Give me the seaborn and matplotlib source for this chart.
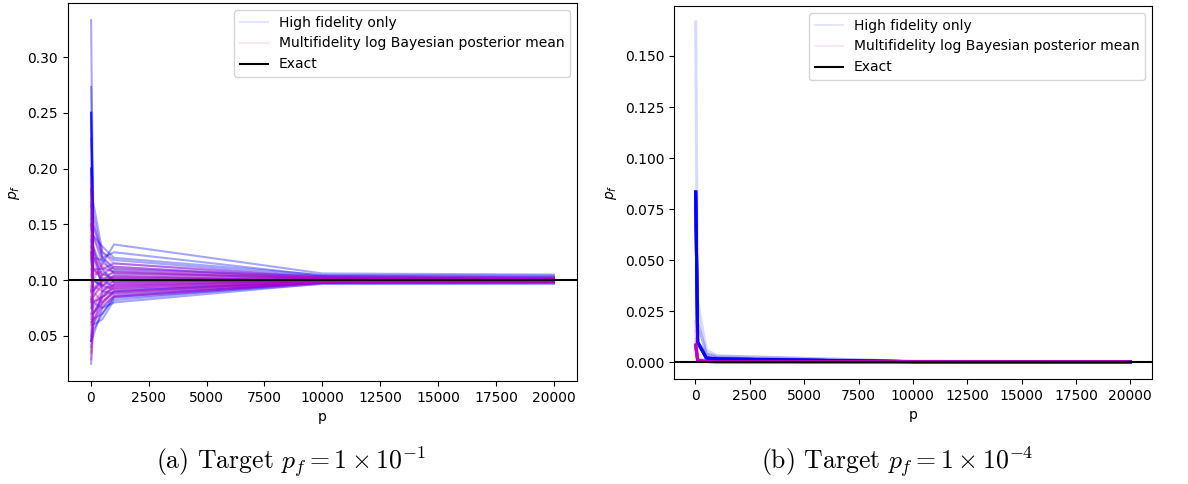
import matplotlib
matplotlib.use("Agg")
import matplotlib.pyplot as plt
from matplotlib.lines import Line2D
import numpy as np
import pandas as pd
import seaborn as sns

# Sample counts at which the failure probability is estimated
P_POINTS = [10, 100, 500, 1000, 10000, 20000]

# (a) target p_f = 1e-1 : high-fidelity-only estimates, one row per run
HF_A = [
    [0.333, 0.150, 0.120, 0.125, 0.1040, 0.1030],
    [0.273, 0.140, 0.115, 0.132, 0.1060, 0.1050],
    [0.250, 0.170, 0.125, 0.118, 0.1030, 0.1010],
    [0.250, 0.130, 0.110, 0.115, 0.1020, 0.1015],
    [0.250, 0.120, 0.105, 0.112, 0.1010, 0.1000],
    [0.250, 0.160, 0.120, 0.110, 0.1035, 0.1025],
    [0.227, 0.110, 0.100, 0.108, 0.1005, 0.1005],
    [0.200, 0.120, 0.118, 0.106, 0.1020, 0.1010],
    [0.200, 0.100, 0.095, 0.104, 0.0990, 0.0995],
    [0.182, 0.090, 0.105, 0.102, 0.1000, 0.1000],
    [0.167, 0.130, 0.090, 0.100, 0.0985, 0.0990],
    [0.150, 0.110, 0.110, 0.098, 0.1010, 0.1005],
    [0.136, 0.080, 0.085, 0.096, 0.0995, 0.0985],
    [0.125, 0.090, 0.100, 0.094, 0.1000, 0.0990],
    [0.100, 0.100, 0.095, 0.092, 0.0980, 0.0985],
    [0.091, 0.070, 0.080, 0.090, 0.0990, 0.0995],
    [0.083, 0.060, 0.090, 0.088, 0.0975, 0.0980],
    [0.075, 0.080, 0.075, 0.086, 0.0980, 0.0990],
    [0.0625, 0.065, 0.070, 0.084, 0.0965, 0.0965],
    [0.0455, 0.050, 0.075, 0.080, 0.0970, 0.0975],
    [0.0455, 0.060, 0.065, 0.082, 0.0985, 0.0990],
    [0.025, 0.055, 0.070, 0.085, 0.0980, 0.0985],
    [0.0455, 0.070, 0.085, 0.090, 0.0990, 0.0995],
    [0.200, 0.140, 0.130, 0.120, 0.1045, 0.1040],
]

# (a) multifidelity log Bayesian posterior mean, one row per run
MF_A = [
    [0.190, 0.140, 0.120, 0.112, 0.1020, 0.1015],
    [0.180, 0.120, 0.110, 0.108, 0.1025, 0.1020],
    [0.170, 0.150, 0.125, 0.115, 0.1030, 0.1025],
    [0.160, 0.110, 0.105, 0.106, 0.1010, 0.1005],
    [0.150, 0.130, 0.100, 0.104, 0.1005, 0.1000],
    [0.140, 0.100, 0.115, 0.110, 0.1015, 0.1012],
    [0.130, 0.120, 0.095, 0.102, 0.1000, 0.1000],
    [0.125, 0.090, 0.100, 0.100, 0.0995, 0.0995],
    [0.120, 0.105, 0.108, 0.098, 0.1000, 0.1002],
    [0.110, 0.095, 0.090, 0.097, 0.0992, 0.0994],
    [0.105, 0.085, 0.098, 0.103, 0.1008, 0.1004],
    [0.100, 0.100, 0.093, 0.095, 0.0988, 0.0990],
    [0.095, 0.080, 0.085, 0.094, 0.0985, 0.0988],
    [0.090, 0.110, 0.102, 0.101, 0.1002, 0.1000],
    [0.085, 0.075, 0.088, 0.092, 0.0982, 0.0985],
    [0.080, 0.090, 0.080, 0.090, 0.0980, 0.0983],
    [0.070, 0.070, 0.082, 0.088, 0.0978, 0.0982],
    [0.065, 0.085, 0.095, 0.099, 0.0998, 0.0997],
    [0.060, 0.065, 0.078, 0.086, 0.0975, 0.0975],
    [0.050, 0.080, 0.090, 0.096, 0.0990, 0.0992],
    [0.040, 0.060, 0.076, 0.085, 0.0976, 0.0981],
    [0.035, 0.070, 0.085, 0.093, 0.0987, 0.0990],
    [0.029, 0.060, 0.080, 0.089, 0.0983, 0.0986],
    [0.155, 0.125, 0.112, 0.107, 0.1012, 0.1008],
]

# (b) target p_f = 1e-4 : most runs see no failure, a few see one or two
HF_B_TYPICAL = [0.0833, 0.0098, 0.0020, 0.0015, 0.00020, 0.00005]
HF_B_TYPICAL_COUNT = 20
HF_B_OTHERS = [
    [0.1667, 0.0196, 0.0040, 0.0020, 0.00020, 0.00010],
    [0.0833, 0.0196, 0.0040, 0.0020, 0.00030, 0.00015],
    [0.0833, 0.0098, 0.0040, 0.0030, 0.00030, 0.00015],
    [0.0833, 0.0294, 0.0060, 0.0030, 0.00040, 0.00020],
    [0.0833, 0.0098, 0.0020, 0.0020, 0.00020, 0.00010],
]
MF_B_TYPICAL = [0.0083, 0.0008, 0.0003, 0.0002, 0.00011, 0.00010]
MF_B_TYPICAL_COUNT = 20
MF_B_OTHERS = [
    [0.0150, 0.0015, 0.0004, 0.0003, 0.00012, 0.00010],
    [0.0110, 0.0010, 0.0004, 0.0002, 0.00011, 0.00010],
    [0.0200, 0.0020, 0.0005, 0.0003, 0.00012, 0.00011],
]

EXACT = [1e-1, 1e-4]
CAPTIONS = [r"(a) Target $p_f = 1 \times 10^{-1}$",
            r"(b) Target $p_f = 1 \times 10^{-4}$"]
LABEL_HF = "High fidelity only"
LABEL_MF = "Multifidelity log Bayesian posterior mean"


def runs_frame(rows, method):
    records = []
    for run, vals in enumerate(rows):
        for p, v in zip(P_POINTS, vals):
            records.append({"p": p, "pf": v, "run": run, "method": method})
    return pd.DataFrame(records)


plt.rcParams["mathtext.fontset"] = "dejavusans"
fig = plt.figure(figsize=(11.88, 4.84), dpi=100)
ax_a = fig.add_axes([0.0572, 0.2128, 0.4285, 0.7810])
ax_b = fig.add_axes([0.5673, 0.2169, 0.4024, 0.7707])

panels = [
    (ax_a, HF_A, MF_A, EXACT[0], 0.35, 1.5),
    (ax_b, HF_B_OTHERS + [HF_B_TYPICAL] * HF_B_TYPICAL_COUNT,
     MF_B_OTHERS + [MF_B_TYPICAL] * MF_B_TYPICAL_COUNT, EXACT[1], 0.15, 2.2),
]

for ax, hf_rows, mf_rows, exact, alpha, lw in panels:
    hf = runs_frame(hf_rows, "HF")
    mf = runs_frame(mf_rows, "MF")
    sns.lineplot(data=hf, x="p", y="pf", units="run", estimator=None,
                 color="b", alpha=alpha, lw=lw, ax=ax, legend=False)
    sns.lineplot(data=mf, x="p", y="pf", units="run", estimator=None,
                 color="m", alpha=alpha, lw=lw, ax=ax, legend=False)
    ax.axhline(exact, color="k", lw=1.5)
    ax.set_xlabel("p", fontsize=10)
    ax.set_ylabel(r"$p_f$", fontsize=10)
    ax.tick_params(labelsize=10)
    handles = [
        Line2D([], [], color="b", alpha=0.1, lw=1.5),
        Line2D([], [], color="m", alpha=0.1, lw=1.5),
        Line2D([], [], color="k", lw=1.5),
    ]
    ax.legend(handles, [LABEL_HF, LABEL_MF, "Exact"], loc="upper right",
              fontsize=10)

ax_b.set_ylim(-0.0083, 0.1745)

plt.rcParams["mathtext.fontset"] = "cm"
for xc, cap in zip([291 / 1188, 897 / 1188], CAPTIONS):
    fig.text(xc, 1 - 462 / 484, cap, ha="center", va="center",
             fontsize=18.5, family="cmr10", math_fontfamily="cm")

fig.savefig("out.png", dpi=100)
